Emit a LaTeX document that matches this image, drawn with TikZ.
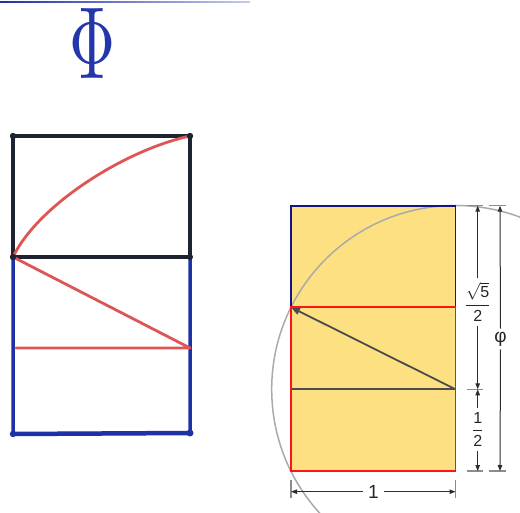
\documentclass[tikz,border=0pt]{standalone}
\usepackage{graphicx}
\usepackage{fontspec}
\setmainfont{Liberation Sans}
\usetikzlibrary{arrows.meta}
\definecolor{gold}{RGB}{253,224,130}
\definecolor{navyc}{RGB}{20,20,135}
\definecolor{redc}{RGB}{255,20,20}
\definecolor{circg}{RGB}{170,170,170}
\definecolor{dimg}{RGB}{45,45,45}
\definecolor{tickg}{RGB}{140,140,140}
\definecolor{innerg}{RGB}{75,75,75}
\definecolor{hblack}{RGB}{30,35,50}
\definecolor{hblue}{RGB}{30,50,165}
\definecolor{hred}{RGB}{222,85,85}
\definecolor{phiblue}{RGB}{35,55,170}
\begin{document}
\begin{tikzpicture}[x=1pt,y=-1pt,
  dimarrow/.style={draw=dimg, line width=1pt, -{Triangle[length=6pt,width=4.5pt]}},
  ext/.style={draw=tickg, line width=1.3pt},
  hb/.style={draw=hblack, line width=4pt, line cap=round, line join=round},
  hu/.style={draw=hblue, line width=3.5pt, line cap=round, line join=round},
  hr/.style={draw=hred, line width=2.8pt, line cap=round, line join=round},
  blob/.style={fill=#1},
  lab/.style={text=black!85, font=\fontsize{19}{22}\selectfont},
  flab/.style={text=black!85, font=\fontsize{16}{19}\selectfont, inner sep=4pt}]
\useasboundingbox (0,0) rectangle (520,513);
% top strip
\shade[left color=hblue, right color=hblue!25] (0,1.2) rectangle (250,3);
% Phi
\node[text=phiblue, inner sep=0pt] (phi) at (92.5,43) {\resizebox{46pt}{70pt}{$\Phi$}};
% left hand-drawn figure
\coordinate (L1) at (13,136);
\coordinate (L2) at (190,136);
\coordinate (L3) at (190,257);
\coordinate (L4) at (13,257);
\coordinate (L5) at (190,348);
\coordinate (L6) at (16,348);
\coordinate (L7) at (190,433);
\coordinate (L8) at (13,434);
\draw[hu] (L4) -- (L8) -- (L7) -- (L3);
\draw[hu, line width=4.5pt] (L8) -- (L7);
\draw[hb] (L1) -- (L2) -- (L3) -- (L4) -- cycle;
\draw[hr] (L4) .. controls (38,205) and (125,150) .. (L2);
\draw[hr] (L4) -- (L5) -- (L6);
\fill[blob=hblack] (L1) circle (3.2);
\fill[blob=hblack] (L2) circle (3.2);
\fill[blob=hblack] (L3) circle (3);
\fill[blob=hblack] (L4) circle (3.2);
\fill[blob=hblue] (L7) circle (3.5);
\fill[blob=hblue] (L8) circle (3.2);
% right figure
\coordinate (A) at (291,206);
\coordinate (B) at (455.5,206);
\coordinate (C) at (291,307.3);
\coordinate (D) at (455.5,307.3);
\coordinate (E) at (291,389.3);
\coordinate (F) at (455.5,389.3);
\coordinate (G) at (291,471);
\coordinate (H) at (455.5,471);
\fill[gold] (A) rectangle (H);
\begin{scope}
\clip (0,0) rectangle (520,513);
\draw[circg, line width=1.5pt] (F) circle (183.8);
\end{scope}
\draw[innerg, line width=1.8pt] (E) -- (F);
\draw[innerg, line width=1.8pt, -{Triangle[length=9pt,width=7pt]}] (F) -- (C);
\draw[navyc, line width=1.8pt] (C) -- (A) -- (B) -- (D);
\draw[redc, line width=1.8pt] (C) rectangle (H);
% extension ticks
\coordinate (T1a) at (466.5,205.7); \coordinate (T1b) at (483,205.7);
\coordinate (T2a) at (489,205.7);   \coordinate (T2b) at (506,205.7);
\coordinate (T3a) at (466.5,389.3); \coordinate (T3b) at (483,389.3);
\coordinate (T4a) at (466.5,471);   \coordinate (T4b) at (483,471);
\coordinate (T5a) at (489,471);     \coordinate (T5b) at (506,471);
\coordinate (V1a) at (291,480);     \coordinate (V1b) at (291,498);
\coordinate (V2a) at (455.5,480);   \coordinate (V2b) at (455.5,498);
\draw[ext] (T1a) -- (T1b); \draw[ext] (T2a) -- (T2b);
\draw[ext] (T3a) -- (T3b); \draw[ext] (T4a) -- (T4b);
\draw[ext] (T5a) -- (T5b);
\draw[ext] (V1a) -- (V1b); \draw[ext] (V2a) -- (V2b);
% arrow ends
\coordinate (s5top) at (477.7,205.7);
\coordinate (s5bot) at (477.7,389.3);
\coordinate (htop) at (477.7,389.3);
\coordinate (hbot) at (477.7,471);
\coordinate (ptop) at (500,205.7);
\coordinate (pbot) at (500,471);
\coordinate (oleft) at (291,491.7);
\coordinate (oright) at (455.5,491.7);
% labels
\node[flab] (s5) at (477.7,302) {$\displaystyle\frac{\sqrt{\mbox{5}}}{\mbox{2}}$};
\node[flab] (half) at (477.7,429.5) {$\displaystyle\frac{\mbox{1}}{\mbox{2}}$};
\node[lab, inner sep=3pt] (phl) at (500.5,339) {φ};
\node[lab, inner sep=5pt] (one) at (373.5,491.7) {1};
\draw[dimarrow] (s5.north) -- (s5top);
\draw[dimarrow] (s5.south) -- (s5bot);
\draw[dimarrow] (half.north) -- (htop);
\draw[dimarrow] (half.south) -- (hbot);
\draw[dimarrow] (phl.north) -- (ptop);
\draw[dimarrow] (phl.south) -- (pbot);
\draw[dimarrow] (one.west) -- (oleft);
\draw[dimarrow] (one.east) -- (oright);
\end{tikzpicture}
\end{document}
